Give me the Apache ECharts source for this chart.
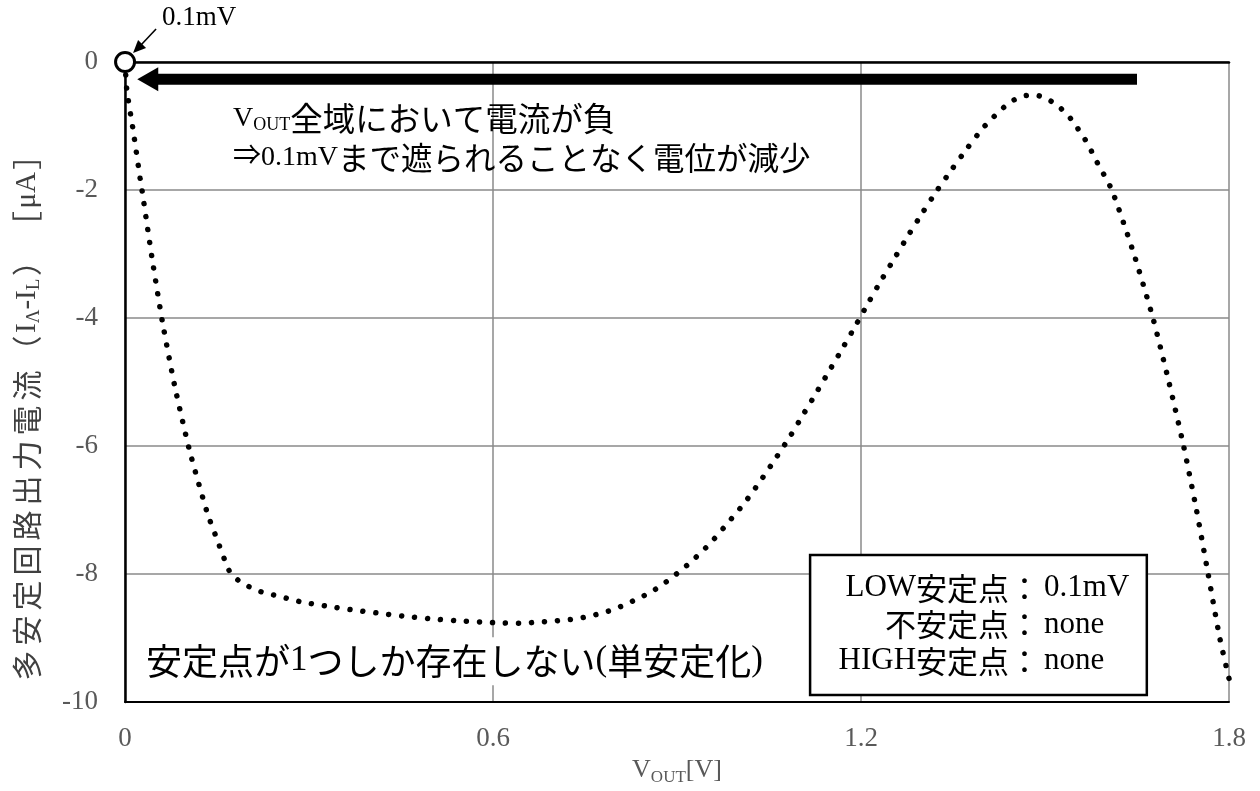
<!DOCTYPE html>
<html>
<head>
<meta charset="utf-8">
<script src="https://cdn.jsdelivr.net/npm/echarts@6/dist/echarts.min.js"></script>
<style>
  html, body { margin: 0; padding: 0; background: #ffffff; }
  #chart { width: 1260px; height: 791px; }
</style>
</head>
<body>
<div id="chart"></div>
<script>
// Output voltage V_OUT [V]
const vout = [
  0.000, 0.003, 0.013, 0.025, 0.028, 0.044, 0.061, 0.081, 0.105, 0.134,
  0.149, 0.170, 0.185, 0.203, 0.223, 0.244, 0.265, 0.285, 0.328, 0.371,
  0.413, 0.456, 0.499, 0.542, 0.585, 0.606, 0.649, 0.671, 0.692, 0.714,
  0.735, 0.756, 0.777, 0.797, 0.817, 0.837, 0.856, 0.874, 0.891, 0.908,
  0.924, 0.955, 0.983, 1.010, 1.035, 1.059, 1.083, 1.105, 1.127, 1.148,
  1.170, 1.191, 1.212, 1.233, 1.255, 1.277, 1.300, 1.323, 1.348, 1.373,
  1.399, 1.414, 1.429, 1.446, 1.465, 1.486, 1.506, 1.524, 1.539, 1.552,
  1.564, 1.574, 1.584, 1.609, 1.645, 1.676, 1.702, 1.726, 1.747, 1.766,
  1.785, 1.800
];
// Output current of the multistable circuit (I_Λ - I_L) [μA]
const current = [
  0.00, -0.44, -1.05, -1.84, -2.02, -3.06, -4.06, -5.06, -6.06, -7.04,
  -7.43, -7.95, -8.10, -8.20, -8.28, -8.33, -8.38, -8.43, -8.50, -8.56,
  -8.61, -8.66, -8.70, -8.73, -8.75, -8.76, -8.77, -8.75, -8.74, -8.72,
  -8.70, -8.66, -8.61, -8.55, -8.47, -8.38, -8.29, -8.18, -8.06, -7.93,
  -7.80, -7.51, -7.20, -6.89, -6.56, -6.22, -5.87, -5.52, -5.17, -4.83,
  -4.47, -4.12, -3.76, -3.41, -3.06, -2.71, -2.36, -2.02, -1.68, -1.35,
  -1.03, -0.88, -0.74, -0.61, -0.53, -0.52, -0.59, -0.71, -0.85, -1.02,
  -1.19, -1.36, -1.55, -2.00, -3.00, -4.00, -5.00, -6.00, -7.00, -8.00,
  -9.00, -9.63
];
// Stable point (LOW) found at 0.1 mV
const lowStable = [0.0001, 0];
// Tick labels
const xTickLabels = ['0', '0.6', '1.2', '1.8'];
const yTickLabels = ['-10', '-8', '-6', '-4', '-2', '0'];

const SERIF = '"Liberation Serif", "Noto Sans CJK JP", serif';
const CJK = '"Noto Sans CJK JP", "Liberation Serif", sans-serif';
const GRID_GRAY = '#8a8a8a';
const LABEL_GRAY = '#595959';
const NAME_GRAY = '#404040';

// rich-text styles: l = latin, c = CJK, s = subscript
function richSet(latin, cjk, sub, color) {
  return {
    l: { fontSize: latin, fontFamily: SERIF, fill: color, color: color },
    c: { fontSize: cjk, fontFamily: CJK, fill: color, color: color },
    s: { fontSize: sub, fontFamily: SERIF, fill: color, color: color, verticalAlign: 'bottom', lineHeight: sub * 0.9 }
  };
}
// one rich token per CJK character so each gets its own spacing
function spaced(str) {
  return str.split('').map(ch => '{c|' + ch + '}').join('');
}

const yAxisName = spaced('多安定回路出力電流（') + '{l|I}{s|Λ}{l|-I}{s|L}' + spaced('）［') + '{l|μA}' + spaced('］');

const chart = echarts.init(document.getElementById('chart'), null, { renderer: 'canvas' });

chart.setOption({
  animation: false,
  backgroundColor: '#ffffff',
  grid: { left: 125, right: 31, top: 62, bottom: 81, containLabel: false },
  xAxis: [
    {
      type: 'value', position: 'bottom', min: 0, max: 1.8, interval: 0.6,
      axisLine: { show: true, onZero: false, lineStyle: { color: '#000', width: 2 } },
      axisTick: { show: false },
      splitLine: { show: true, lineStyle: { color: GRID_GRAY, width: 1.5 } },
      axisLabel: {
        margin: 23, color: LABEL_GRAY, fontFamily: SERIF, fontSize: 27,
        formatter: v => xTickLabels[Math.round(v / 0.6)]
      },
      name: '{v|V}{s|OUT}{v|[V]}',
      nameLocation: 'middle', nameGap: 44,
      nameTextStyle: {
        color: LABEL_GRAY, fontFamily: SERIF,
        rich: {
          v: { fontSize: 26, fontFamily: SERIF, color: LABEL_GRAY, lineHeight: 32 },
          s: { fontSize: 17, fontFamily: SERIF, color: LABEL_GRAY, verticalAlign: 'bottom', lineHeight: 15 }
        }
      }
    },
    {
      type: 'value', position: 'top', min: 0, max: 1.8,
      axisLine: { show: true, onZero: false, lineStyle: { color: '#000', width: 2.5 } },
      axisTick: { show: false }, axisLabel: { show: false }, splitLine: { show: false }
    }
  ],
  yAxis: {
    type: 'value', min: -10, max: 0, interval: 2,
    axisLine: { show: true, onZero: false, lineStyle: { color: '#000', width: 2.5 } },
    axisTick: { show: false },
    splitLine: { show: true, lineStyle: { color: GRID_GRAY, width: 1.5 } },
    axisLabel: {
      margin: 27, color: LABEL_GRAY, fontFamily: SERIF, fontSize: 27,
      formatter: v => yTickLabels[Math.round((v + 10) / 2)]
    },
    name: yAxisName,
    nameLocation: 'middle', nameGap: 81, nameRotate: 90,
    nameTextStyle: {
      color: NAME_GRAY, fontFamily: SERIF,
      padding: [0, 56, 0, 0],
      rich: {
        l: { fontSize: 29, fontFamily: SERIF, color: NAME_GRAY, lineHeight: 34 },
        c: { fontSize: 30, fontFamily: CJK, color: NAME_GRAY, lineHeight: 34, padding: [0, 2.5, 0, 2.5] },
        s: { fontSize: 19, fontFamily: SERIF, color: NAME_GRAY, verticalAlign: 'bottom', lineHeight: 16 }
      }
    }
  },
  series: [
    {
      name: 'I',
      type: 'line',
      data: vout.map((v, i) => [v, current[i]]),
      symbol: 'none',
      smooth: 0.2,
      clip: false,
      lineStyle: { color: '#000', width: 5.5, type: [0.01, 13], cap: 'round' },
      z: 3
    },
    {
      name: 'LOW',
      type: 'scatter',
      data: [lowStable],
      symbol: 'circle',
      symbolSize: 19,
      clip: false,
      itemStyle: { color: '#fff', borderColor: '#000', borderWidth: 3, opacity: 1 },
      z: 10
    }
  ]
});

// Annotations, anchored to data coordinates through the grid's scales
function px(pt) { return chart.convertToPixel({ gridIndex: 0 }, pt); }

const p0 = px(lowStable);
const arrowTail = px([1.65, -0.27]);
const arrowTip = px([0.02, -0.27]);
const noteLine1 = px([0.176, -0.88]);
const noteLine2 = px([0.176, -1.50]);
const monoNote = px([0.0245, -9.36]);
const boxTL = px([1.117, -7.70]);
const boxBR = px([1.666, -9.89]);
const colonX = px([1.492, 0])[0];
const rowY = [-8.22, -8.79, -9.36].map(v => px([0, v])[1]);

const headLen = 21, headHalf = 12, barHalf = 5.5;
const graphics = [
  // leftward arrow along the top of the plot
  {
    type: 'rect', z: 20,
    shape: { x: arrowTip[0] + headLen - 1, y: arrowTail[1] - barHalf, width: arrowTail[0] - arrowTip[0] - headLen + 1, height: barHalf * 2 },
    style: { fill: '#000' }
  },
  {
    type: 'polygon', z: 20,
    shape: { points: [[arrowTip[0], arrowTip[1]], [arrowTip[0] + headLen, arrowTip[1] - headHalf], [arrowTip[0] + headLen, arrowTip[1] + headHalf]] },
    style: { fill: '#000' }
  },
  // pointer to the stable point
  {
    type: 'line', z: 20,
    shape: { x1: p0[0] + 31, y1: p0[1] - 33, x2: p0[0] + 15, y2: p0[1] - 16 },
    style: { stroke: '#000', lineWidth: 1.6 }
  },
  {
    type: 'polygon', z: 20,
    shape: { points: [[p0[0] + 8, p0[1] - 9], [p0[0] + 21, p0[1] - 14], [p0[0] + 13, p0[1] - 22]] },
    style: { fill: '#000' }
  },
  {
    type: 'text', z: 20, x: p0[0] + 37, y: p0[1] - 44,
    style: { text: '0.1mV', font: '27px ' + SERIF, fill: '#000', textVerticalAlign: 'middle', textAlign: 'left' }
  },
  // explanation near the top
  {
    type: 'text', z: 20, x: noteLine1[0], y: noteLine1[1],
    style: {
      text: '{l|V}{s|OUT}{c|全域において電流が負}',
      textVerticalAlign: 'middle', textAlign: 'left',
      rich: richSet(28, 32.5, 18, '#000')
    }
  },
  {
    type: 'text', z: 20, x: noteLine2[0], y: noteLine2[1],
    style: {
      text: '{l|⇒0.1mV}{c|まで遮られることなく電位が減少}',
      textVerticalAlign: 'middle', textAlign: 'left',
      rich: richSet(28, 31.5, 18, '#000')
    }
  },
  // monostable note
  {
    type: 'text', z: 20, x: monoNote[0], y: monoNote[1],
    style: {
      text: '{c|安定点が}{l|1}{c|つしか存在しない}{l|(}{c|単安定化}{l|)}',
      textVerticalAlign: 'middle', textAlign: 'left',
      rich: richSet(35, 36, 20, '#000'),
      backgroundColor: '#fff', padding: [6, 6, 6, 6]
    }
  },
  // summary box
  {
    type: 'rect', z: 20,
    shape: { x: boxTL[0], y: boxTL[1], width: boxBR[0] - boxTL[0], height: boxBR[1] - boxTL[1] },
    style: { fill: '#fff', stroke: '#000', lineWidth: 2.5 }
  }
];
const boxLeft = ['{l|LOW}{c|安定点：}', '{c|不安定点：}', '{l|HIGH}{c|安定点：}'];
const boxRight = ['0.1mV', 'none', 'none'];
boxLeft.forEach((t, i) => {
  graphics.push({
    type: 'text', z: 21, x: colonX, y: rowY[i],
    style: { text: t, rich: richSet(31, 31, 18, '#000'), textAlign: 'right', textVerticalAlign: 'middle' }
  });
  graphics.push({
    type: 'text', z: 21, x: colonX + 4, y: rowY[i],
    style: { text: boxRight[i], font: '31px ' + SERIF, fill: '#000', textAlign: 'left', textVerticalAlign: 'middle' }
  });
});

chart.setOption({ graphic: graphics });
</script>
</body>
</html>
